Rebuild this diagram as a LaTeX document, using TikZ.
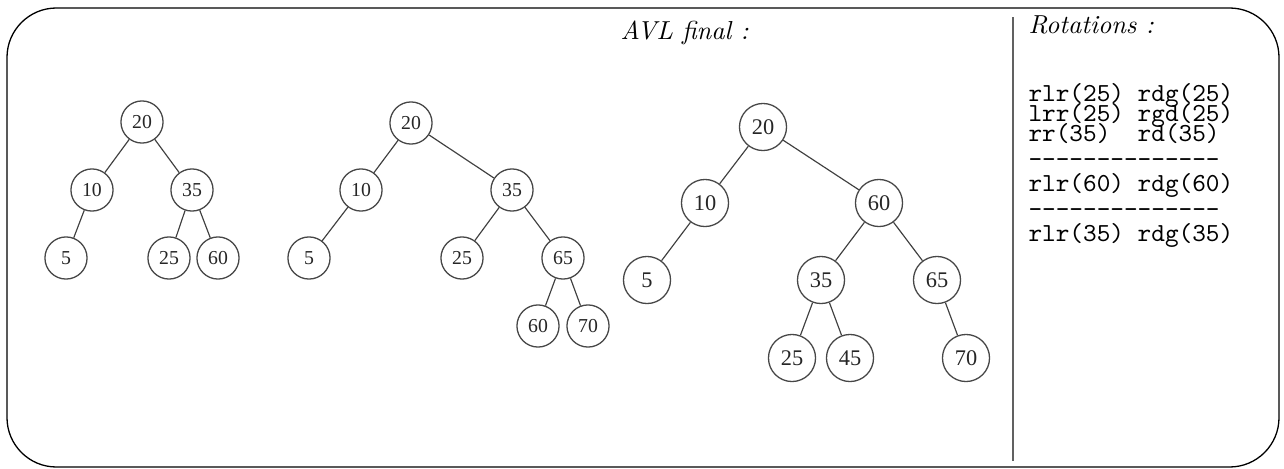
\documentclass[tikz,border=0pt]{standalone}
% serif faces for the tree keys, loaded directly by XeTeX
\font\keyfontA="Liberation Serif" at 7.6pt
\font\keyfontB="Liberation Serif" at 8.6pt
% classic Computer Modern typewriter for the rotation list
\newcommand\cmtype{\fontencoding{OT1}\fontfamily{cmtt}\fontsize{10}{12}\selectfont}
\tikzset{
  keynode/.style={circle, draw=black!72, line width=0.5pt, inner sep=0pt,
    minimum size=16.2pt, text=black!85, font=\keyfontA},
  bignode/.style={keynode, minimum size=18.1pt, font=\keyfontB},
  branch/.style={draw=black!75, line width=0.45pt},
  rotline/.style={anchor=base west, inner sep=0pt, font=\cmtype},
}
\newcommand\dashrule{-\kern0pt-\kern0pt-\kern0pt-\kern0pt-\kern0pt-\kern0pt-\kern0pt-\kern0pt-\kern0pt-\kern0pt-\kern0pt-\kern0pt-\kern0pt-}
\begin{document}
\begin{tikzpicture}[x={(0.3846pt,0)}, y={(0,-0.3846pt)}]
\useasboundingbox (0,0) rectangle (1284,468);

% outer frame and separator
\draw[line width=0.5pt, rounded corners=19pt] (7,8) rectangle (1279,467);
\draw[black!62, line width=0.6pt] (1013,17) -- (1013,461);

% headings
\node[anchor=base west, inner sep=0pt] (avl) at (620,39) {\textit{AVL final :}};
\node[anchor=base west, inner sep=0pt] (rot) at (1028,33) {\textit{Rotations :}};

% first tree
\node[keynode] (a20) at (142,122) {20};
\node[keynode] (a10) at (92,190) {10};
\node[keynode] (a35) at (192,190) {35};
\node[keynode] (a5)  at (66,258) {5};
\node[keynode] (a25) at (169,258) {25};
\node[keynode] (a60) at (218,258) {60};
\draw[branch] (a20) -- (a10);
\draw[branch] (a20) -- (a35);
\draw[branch] (a10) -- (a5);
\draw[branch] (a35) -- (a25);
\draw[branch] (a35) -- (a60);

% second tree
\node[keynode] (b20) at (411,123) {20};
\node[keynode] (b10) at (361,190) {10};
\node[keynode] (b35) at (512,190) {35};
\node[keynode] (b5)  at (309,258) {5};
\node[keynode] (b25) at (462,258) {25};
\node[keynode] (b65) at (563,258) {65};
\node[keynode] (b60) at (538,326) {60};
\node[keynode] (b70) at (588,326) {70};
\draw[branch] (b20) -- (b10);
\draw[branch] (b20) -- (b35);
\draw[branch] (b10) -- (b5);
\draw[branch] (b35) -- (b25);
\draw[branch] (b35) -- (b65);
\draw[branch] (b65) -- (b60);
\draw[branch] (b65) -- (b70);

% final tree
\node[bignode] (c20) at (763,127) {20};
\node[bignode] (c10) at (705,203) {10};
\node[bignode] (c60) at (879,203) {60};
\node[bignode] (c5)  at (647,280) {5};
\node[bignode] (c35) at (821,280) {35};
\node[bignode] (c65) at (937,280) {65};
\node[bignode] (c25) at (792,358) {25};
\node[bignode] (c45) at (850,358) {45};
\node[bignode] (c70) at (966,358) {70};
\draw[branch] (c20) -- (c10);
\draw[branch] (c20) -- (c60);
\draw[branch] (c10) -- (c5);
\draw[branch] (c60) -- (c35);
\draw[branch] (c60) -- (c65);
\draw[branch] (c35) -- (c25);
\draw[branch] (c35) -- (c45);
\draw[branch] (c65) -- (c70);

% rotation list
\node[rotline] (r1) at (1028,101) {rlr(25) rdg(25)};
\node[rotline] (r2) at (1028,121) {lrr(25) rgd(25)};
\node[rotline] (r3) at (1028,141) {rr(35)\ \ rd(35)};
\node[rotline] (r4) at (1028,167) {\dashrule};
\node[rotline] (r5) at (1028,191) {rlr(60) rdg(60)};
\node[rotline] (r6) at (1028,217) {\dashrule};
\node[rotline] (r7) at (1028,241) {rlr(35) rdg(35)};
\end{tikzpicture}
\end{document}
